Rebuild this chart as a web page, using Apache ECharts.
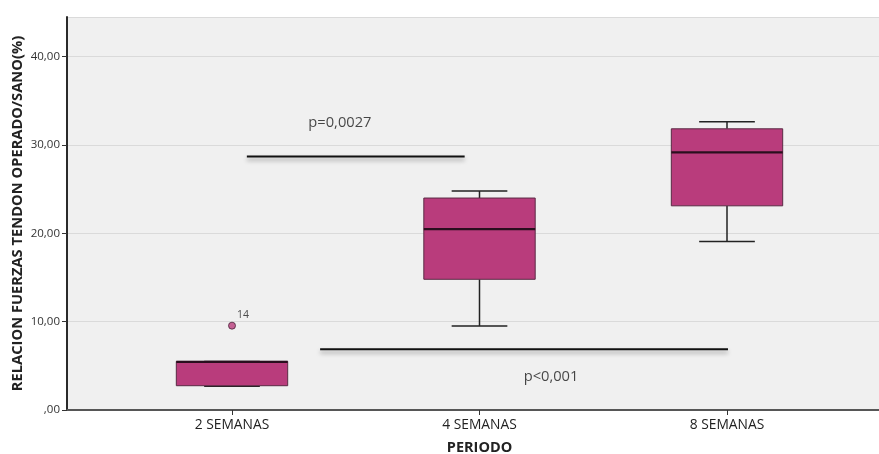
<!DOCTYPE html>
<html>
<head>
<meta charset="utf-8">
<script src="https://cdn.jsdelivr.net/npm/echarts@6/dist/echarts.min.js"></script>
<style>html,body{margin:0;padding:0;background:#fff}#c{width:879px;height:454px}</style>
</head>
<body>
<div id="c"></div>
<script>
// ---- data ----
const categories = ['2 SEMANAS', '4 SEMANAS', '8 SEMANAS'];
const boxMin    = [2.68, 9.52, 19.07];
const boxQ1     = [2.75, 14.8, 23.12];
const boxMedian = [5.45, 20.47, 29.16];
const boxQ3     = [5.5, 24.0, 31.84];
const boxMax    = [5.5, 24.8, 32.63];
const outliers  = [[0, 9.55, '14']];
const yTicks    = [0, 10, 20, 30, 40];
const yMax      = 44.5;
// annotations (category-position units on x, data units on y)
const annLine1 = [[1.06, 28.7], [1.94, 28.7]];
const annLine2 = [[1.356, 6.88], [3.004, 6.88]];
const annTexts = [[1.436, 32.5, 'p=0,0027'], [2.289, 3.77, 'p<0,001']];

const FONT = 'Open Sans';
const boxData = categories.map((c, i) => [i, boxMin[i], boxQ1[i], boxMedian[i], boxQ3[i], boxMax[i]]);

function renderBox(params, api) {
  const idx = api.value(0);
  const lo = api.coord([idx, api.value(1)]);
  const q1 = api.coord([idx, api.value(2)]);
  const md = api.coord([idx, api.value(3)]);
  const q3 = api.coord([idx, api.value(4)]);
  const hi = api.coord([idx, api.value(5)]);
  const band = api.size([1, 0])[0];
  const bw = band * 0.45, cw = bw * 0.5;
  const x = lo[0];
  const stroke = '#222';
  return {
    type: 'group',
    children: [
      {type: 'line', shape: {x1: x, y1: hi[1], x2: x, y2: q3[1]}, style: {stroke, lineWidth: 1.5}},
      {type: 'line', shape: {x1: x, y1: q1[1], x2: x, y2: lo[1]}, style: {stroke, lineWidth: 1.5}},
      {type: 'line', shape: {x1: x - cw / 2, y1: hi[1], x2: x + cw / 2, y2: hi[1]}, style: {stroke, lineWidth: 1.5}},
      {type: 'line', shape: {x1: x - cw / 2, y1: lo[1], x2: x + cw / 2, y2: lo[1]}, style: {stroke, lineWidth: 1.5}},
      {type: 'rect', shape: {x: x - bw / 2, y: q3[1], width: bw, height: q1[1] - q3[1]},
        style: {fill: '#b93c7c', stroke: '#5a2a44', lineWidth: 1}},
      {type: 'line', shape: {x1: x - bw / 2, y1: md[1], x2: x + bw / 2, y2: md[1]}, style: {stroke: '#2a0f1e', lineWidth: 2.2}}
    ]
  };
}

const annShadow = {color: '#111', width: 2, shadowColor: 'rgba(0,0,0,0.35)', shadowBlur: 4, shadowOffsetY: 3};

const chart = echarts.init(document.getElementById('c'), null, {renderer: 'canvas'});
chart.setOption({
  animation: false,
  textStyle: {fontFamily: FONT},
  grid: [
    {left: 67, right: 0, top: 17, bottom: 44, show: true, backgroundColor: '#f0f0f0', borderWidth: 0,
      containLabel: false, outerBoundsMode: 'none'},
    {left: 108.25, right: 28.25, top: 17, bottom: 44, containLabel: false, outerBoundsMode: 'none'}
  ],
  xAxis: [
    {type: 'value', gridIndex: 0, min: 1 / 3, max: 3 + 152 / 247.5,
      axisLine: {show: true, onZero: false, lineStyle: {color: '#2a2a2a', width: 2}},
      axisTick: {show: false}, axisLabel: {show: false}, splitLine: {show: false}},
    {type: 'category', gridIndex: 1, data: categories, boundaryGap: true,
      axisLine: {show: false},
      axisTick: {show: true, alignWithLabel: true, length: 5, lineStyle: {color: '#333'}},
      axisLabel: {fontSize: 13.8, color: '#222', margin: 8, fontFamily: FONT},
      name: 'PERIODO', nameLocation: 'middle', nameGap: 30, nameMoveOverlap: false,
      nameTextStyle: {fontSize: 14.5, fontWeight: 'bold', color: '#222', fontFamily: FONT}},
    {type: 'value', gridIndex: 0, position: 'top', min: 0, max: 1,
      axisLine: {show: true, lineStyle: {color: '#666', width: 1.5}},
      axisTick: {show: false}, axisLabel: {show: false}, splitLine: {show: false}}
  ],
  yAxis: [
    {type: 'value', gridIndex: 0, min: 0, max: yMax, interval: 10,
      axisLine: {show: true, lineStyle: {color: '#2a2a2a', width: 2}},
      axisTick: {show: true, length: 5, lineStyle: {color: '#333'}},
      axisLabel: {fontSize: 11.5, color: '#333', margin: 7, fontFamily: FONT,
        showMaxLabel: false,
        formatter: v => yTicks.indexOf(v) < 0 ? '' : (v === 0 ? ',00' : v.toFixed(2).replace('.', ','))},
      splitLine: {show: true, lineStyle: {color: '#dadada', width: 1}},
      name: 'RELACION FUERZAS TENDON OPERADO/SANO(%)', nameLocation: 'middle', nameGap: 42, nameMoveOverlap: false,
      nameTextStyle: {fontSize: 14.7, fontWeight: 'bold', color: '#222', fontFamily: FONT}},
    {type: 'value', gridIndex: 1, min: 0, max: yMax, show: false}
  ],
  series: [
    {type: 'custom', xAxisIndex: 1, yAxisIndex: 1, renderItem: renderBox,
      encode: {x: 0, y: [1, 2, 3, 4, 5]}, data: boxData, z: 3},
    {type: 'scatter', xAxisIndex: 1, yAxisIndex: 1, symbolSize: 7, z: 4,
      data: outliers.map(o => ({value: [o[0], o[1]], name: o[2]})),
      itemStyle: {color: '#b93c7c', borderColor: '#4a2038', borderWidth: 1},
      label: {show: true, formatter: '{b}', position: [9, -12], fontSize: 10.5, color: '#222', fontFamily: FONT}},
    {type: 'line', xAxisIndex: 0, yAxisIndex: 0, data: annLine1, symbol: 'none', lineStyle: annShadow, z: 2},
    {type: 'line', xAxisIndex: 0, yAxisIndex: 0, data: annLine2, symbol: 'none', lineStyle: annShadow, z: 2},
    {type: 'scatter', xAxisIndex: 0, yAxisIndex: 0, symbolSize: 0, z: 2,
      data: annTexts.map(t => ({value: [t[0], t[1]], name: t[2]})),
      label: {show: true, position: 'inside', formatter: '{b}', fontSize: 14.7, color: '#1a1a1a', fontFamily: FONT}}
  ]
});
</script>
</body>
</html>
